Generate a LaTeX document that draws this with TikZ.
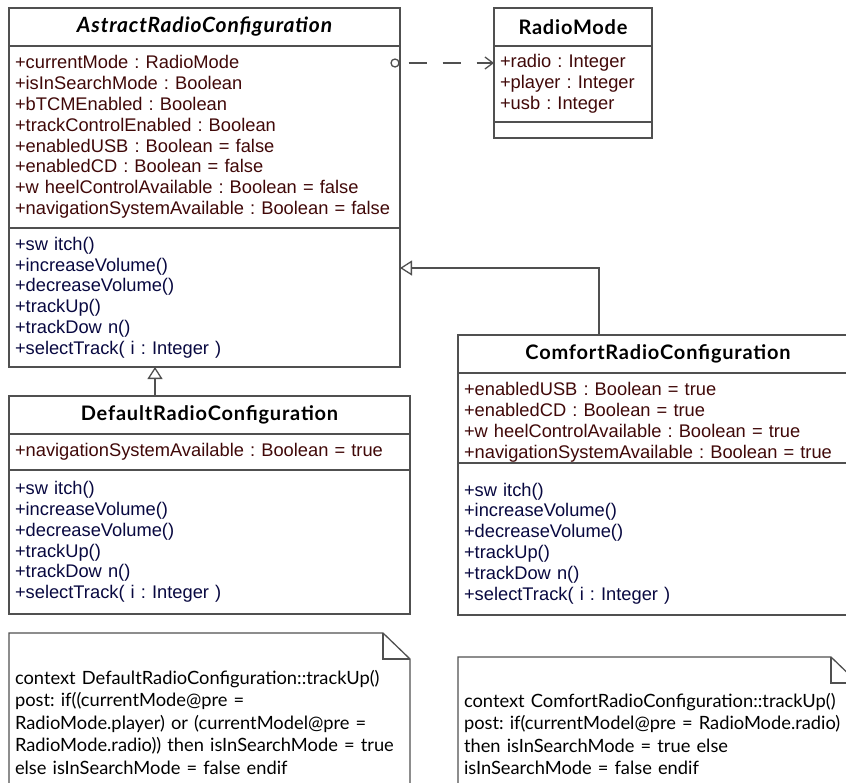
\documentclass[tikz,border=0pt]{standalone}
\usepackage{fontspec}
\setmainfont{Liberation Sans}
\newfontfamily\titlefam[LetterSpace=4]{Lato}
\newfontfamily\notefam{Lato}
\usetikzlibrary{positioning,arrows.meta}
\definecolor{umlline}{RGB}{80,80,80}
\definecolor{attrcol}{RGB}{64,8,8}
\definecolor{opcol}{RGB}{8,8,64}
\tikzset{
	compart/.style = {draw = umlline, line width = 1.3pt, outer sep = 0pt, inner xsep = 6pt, inner ysep = 1pt, align = left},
	classtitle/.style = {compart, align = center, minimum height = 38pt, font = \titlefam\bfseries\fontsize{20}{22}\selectfont},
	attrs/.style = {compart, text = attrcol, font = \fontsize{18.3}{20.8}\selectfont},
	ops/.style = {compart, text = opcol, font = \fontsize{18.3}{20.8}\selectfont},
	lowered/.style = {inner ysep = 0pt, execute at begin node = {\rule{0pt}{#1}}},
	note/.style = {outer sep = 0pt, inner xsep = 6pt, align = left, minimum height = 178pt, anchor = north west, font = \notefam\fontsize{18.3}{22.5}\selectfont},
	notefold/.style = {draw = umlline, line width = 1.3pt},
	gen/.style = {draw = umlline, line width = 1.3pt, -{Triangle[open, length = 12pt, width = 15pt]}},
	dep/.style = {draw = umlline, line width = 1.3pt, dash pattern = on 18pt off 16pt, -{Straight Barb[length = 8pt, width = 12pt]}},
}
\begin{document}
\frenchspacing
\begin{tikzpicture}[x = 1pt, y = -1pt]
		\useasboundingbox (0,0) rectangle (846,782);
		\clip (0,0) rectangle (846,782);
		% abstract class
		\node [classtitle, text width = 379pt, anchor = north west] (abs-t) at (9,8) {\fontsize{21}{22}\selectfont\itshape AstractRadioConfiguration};
		\node [attrs, text width = 379pt, minimum height = 182pt, below = 0pt of abs-t] (abs-a) {+currentMode : RadioMode\\+isInSearchMode : Boolean\\+bTCMEnabled : Boolean\\+trackControlEnabled : Boolean\\+enabledUSB : Boolean = false\\+enabledCD : Boolean = false\\+w heelControlAvailable : Boolean = false\\+navigationSystemAvailable : Boolean = false};
		\node [ops, text width = 379pt, minimum height = 139pt, below = 0pt of abs-a] (abs-o) {+sw itch()\\+increaseVolume()\\+decreaseVolume()\\+trackUp()\\+trackDow n()\\+selectTrack( i : Integer )};
		% enumeration
		\node [classtitle, text width = 146pt, anchor = north west] (rm-t) at (494,8) {RadioMode};
		\node [attrs, text width = 146pt, minimum height = 76pt, below = 0pt of rm-t] (rm-a) {+radio : Integer\\+player : Integer\\+usb : Integer};
		\node [ops, text width = 146pt, minimum height = 16pt, below = 0pt of rm-a] (rm-o) {};
		% subclasses
		\node [classtitle, text width = 389pt, anchor = north west] (def-t) at (9,396) {DefaultRadioConfiguration};
		\node [attrs, text width = 389pt, minimum height = 36pt, below = 0pt of def-t] (def-a) {+navigationSystemAvailable : Boolean = true};
		\node [ops, text width = 389pt, minimum height = 144pt, below = 0pt of def-a] (def-o) {+sw itch()\\+increaseVolume()\\+decreaseVolume()\\+trackUp()\\+trackDow n()\\+selectTrack( i : Integer )};
		\node [classtitle, text width = 388pt, anchor = north west] (com-t) at (458,335) {ComfortRadioConfiguration};
		\node [attrs, lowered = 22pt, text width = 388pt, minimum height = 90pt, below = 0pt of com-t] (com-a) {+enabledUSB : Boolean = true\\+enabledCD : Boolean = true\\+w heelControlAvailable : Boolean = true\\+navigationSystemAvailable : Boolean = true};
		\node [ops, lowered = 22pt, text width = 388pt, minimum height = 152pt, below = 0pt of com-a] (com-o) {+sw itch()\\+increaseVolume()\\+decreaseVolume()\\+trackUp()\\+trackDow n()\\+selectTrack( i : Integer )};
		% notes
		\node [note, text width = 389pt] (def-n) at (9,633) {context DefaultRadioConfiguration::trackUp()\\post: if((currentMode@pre =\\RadioMode.player) or (currentModel@pre =\\RadioMode.radio)) then isInSearchMode = true\\else isInSearchMode = false endif};
		\node [note, text width = 388pt, minimum height = 154pt] (com-n) at (458,657) {context ComfortRadioConfiguration::trackUp()\\post: if(currentModel@pre = RadioMode.radio)\\then isInSearchMode = true else\\isInSearchMode = false endif};
		\foreach \n in {def-n, com-n} {
			\draw [notefold] (\n.north west) -- ([xshift = -27pt]\n.north east) -- ([yshift = -26pt]\n.north east) -- (\n.south east) -- (\n.south west) -- cycle;
			\draw [notefold] ([xshift = -27pt]\n.north east) |- ([yshift = -26pt]\n.north east);
		}
		% relations
		\node [circle, draw = umlline, line width = 1.3pt, inner sep = 0pt, minimum size = 8pt] (dep-o) at ([xshift = -5pt, yshift = -17pt]abs-a.north east) {};
		\draw [dep] ([xshift = 9pt]dep-o.east) -- (rm-a.west |- dep-o.east);
		\draw [gen] ([xshift = 146pt]def-t.north west) -- ([xshift = 146pt]abs-o.south west);
		\draw [gen] ([xshift = 141pt]com-t.north west) |- ([yshift = -40pt]abs-o.north east);
	\end{tikzpicture}
\end{document}
